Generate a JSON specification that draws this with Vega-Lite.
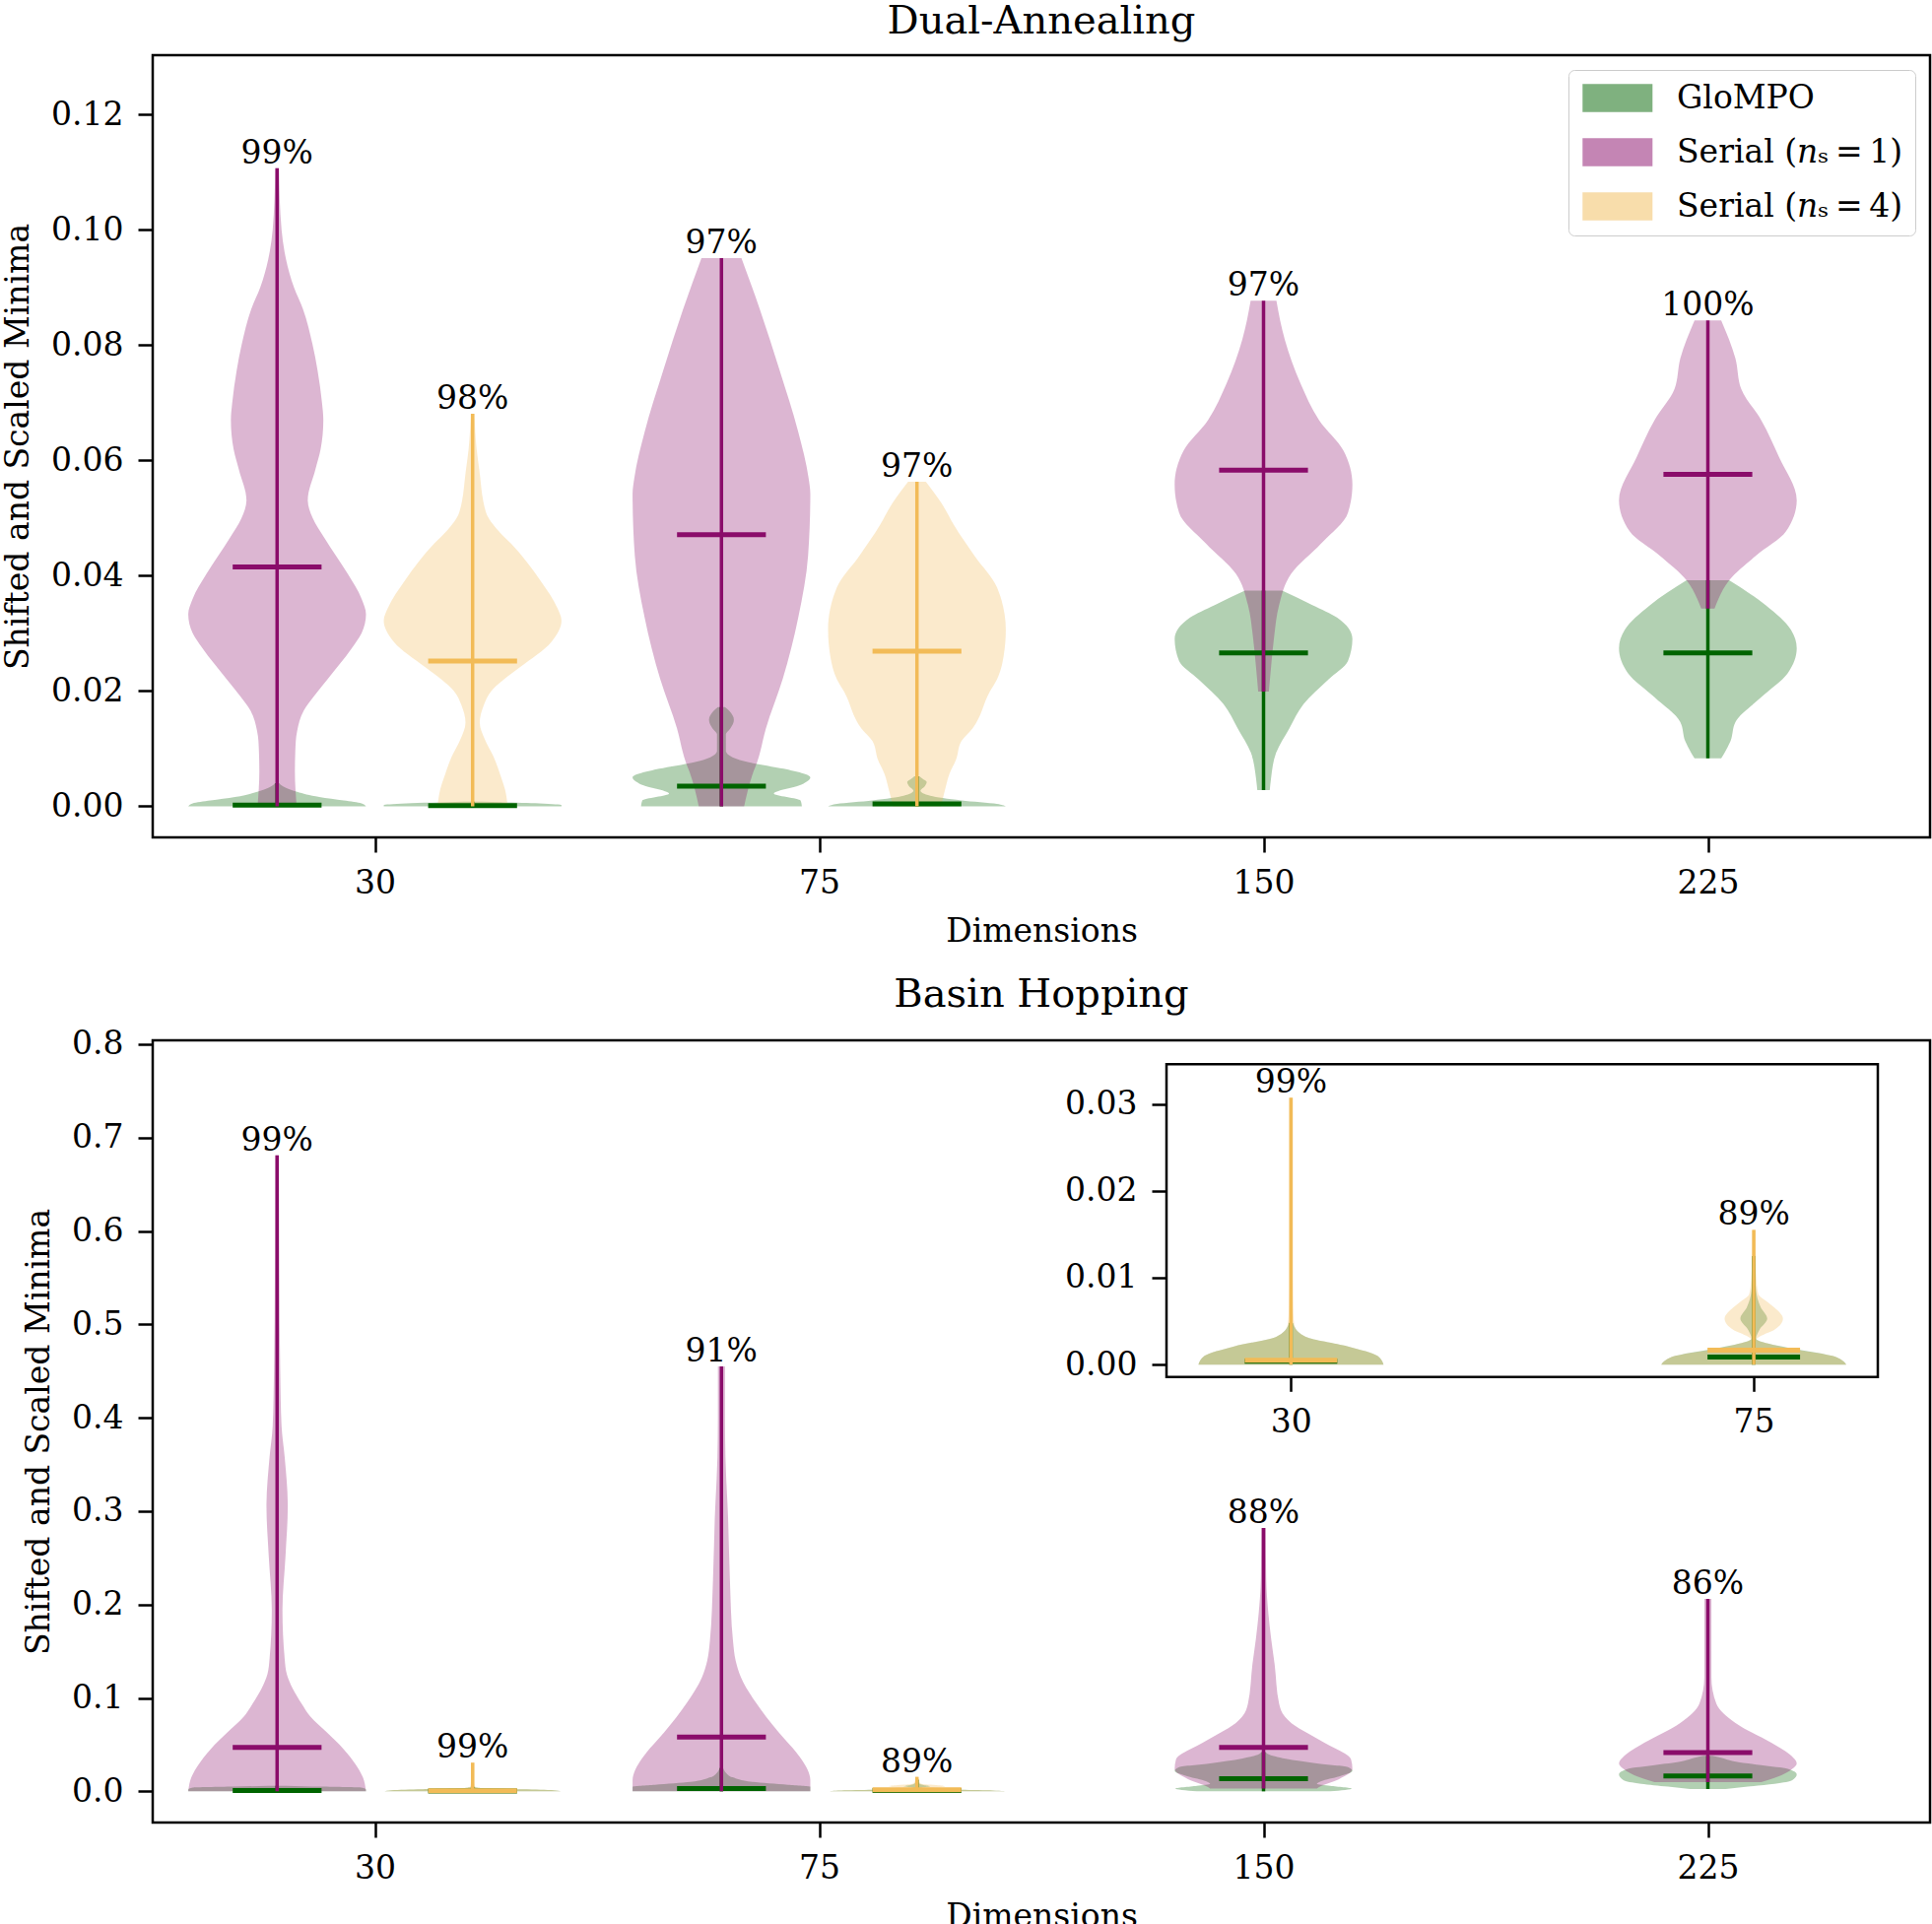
{
"$schema":"https://vega.github.io/schema/vega-lite/v6.json",
"padding":{"left":1,"top":0,"right":3,"bottom":0},
"background":"white",
"spacing":24,
"resolve":{"scale":{"fill":"independent","stroke":"independent"}},
"config":{
 "font":"DejaVu Serif",
 "view":{"stroke":"black","strokeWidth":2.5},
 "axis":{"grid":false,"domain":false,"tickColor":"black","tickWidth":2.5,"tickSize":15,"labelFont":"DejaVu Serif","labelFontSize":33,"labelColor":"black","titleFont":"DejaVu Serif","titleFontSize":33,"titleFontWeight":"normal","titleColor":"black","labelOverlap":false},
 "axisX":{"labelPadding":15,"titlePadding":16},
 "axisY":{"labelPadding":15,"titlePadding":16},
 "title":{"font":"DejaVu Serif","fontSize":40,"fontWeight":"normal","color":"black","baseline":"alphabetic","offset":14,"anchor":"middle"}
},
"datasets":{
"shapes":[
{"p":"DA","d":30,"c":"n1","s":"G","v":0.004,"w":0.005},{"p":"DA","d":30,"c":"n1","s":"G","v":0.0036,"w":0.01},{"p":"DA","d":30,"c":"n1","s":"G","v":0.0032,"w":0.02},{"p":"DA","d":30,"c":"n1","s":"G","v":0.0025,"w":0.045},{"p":"DA","d":30,"c":"n1","s":"G","v":0.0016,"w":0.095},{"p":"DA","d":30,"c":"n1","s":"G","v":0.001,"w":0.15},{"p":"DA","d":30,"c":"n1","s":"G","v":0.0005,"w":0.19},{"p":"DA","d":30,"c":"n1","s":"G","v":0,"w":0.2},
{"p":"DA","d":30,"c":"n1","s":"S1","v":0.1107,"w":0.004},{"p":"DA","d":30,"c":"n1","s":"S1","v":0.1,"w":0.01},{"p":"DA","d":30,"c":"n1","s":"S1","v":0.0949,"w":0.02},{"p":"DA","d":30,"c":"n1","s":"S1","v":0.09,"w":0.038},{"p":"DA","d":30,"c":"n1","s":"S1","v":0.0863,"w":0.058},{"p":"DA","d":30,"c":"n1","s":"S1","v":0.08,"w":0.08},{"p":"DA","d":30,"c":"n1","s":"S1","v":0.0756,"w":0.091},{"p":"DA","d":30,"c":"n1","s":"S1","v":0.07,"w":0.101},{"p":"DA","d":30,"c":"n1","s":"S1","v":0.067,"w":0.104},{"p":"DA","d":30,"c":"n1","s":"S1","v":0.062,"w":0.098},{"p":"DA","d":30,"c":"n1","s":"S1","v":0.0584,"w":0.086},{"p":"DA","d":30,"c":"n1","s":"S1","v":0.0531,"w":0.069},{"p":"DA","d":30,"c":"n1","s":"S1","v":0.05,"w":0.08},{"p":"DA","d":30,"c":"n1","s":"S1","v":0.0466,"w":0.106},{"p":"DA","d":30,"c":"n1","s":"S1","v":0.0403,"w":0.159},{"p":"DA","d":30,"c":"n1","s":"S1","v":0.036,"w":0.19},{"p":"DA","d":30,"c":"n1","s":"S1","v":0.0333,"w":0.2},{"p":"DA","d":30,"c":"n1","s":"S1","v":0.03,"w":0.19},{"p":"DA","d":30,"c":"n1","s":"S1","v":0.0274,"w":0.168},{"p":"DA","d":30,"c":"n1","s":"S1","v":0.022,"w":0.113},{"p":"DA","d":30,"c":"n1","s":"S1","v":0.019,"w":0.082},{"p":"DA","d":30,"c":"n1","s":"S1","v":0.0166,"w":0.06},{"p":"DA","d":30,"c":"n1","s":"S1","v":0.013,"w":0.045},{"p":"DA","d":30,"c":"n1","s":"S1","v":0.0113,"w":0.042},{"p":"DA","d":30,"c":"n1","s":"S1","v":0.006,"w":0.04},{"p":"DA","d":30,"c":"n1","s":"S1","v":0,"w":0.044},
{"p":"DA","d":30,"c":"n4","s":"G","v":0.0008,"w":0.02},{"p":"DA","d":30,"c":"n4","s":"G","v":0.0005,"w":0.15},{"p":"DA","d":30,"c":"n4","s":"G","v":0.0002,"w":0.2},{"p":"DA","d":30,"c":"n4","s":"G","v":0,"w":0.2},
{"p":"DA","d":30,"c":"n4","s":"S4","v":0.0681,"w":0.004},{"p":"DA","d":30,"c":"n4","s":"S4","v":0.062,"w":0.009},{"p":"DA","d":30,"c":"n4","s":"S4","v":0.0584,"w":0.015},{"p":"DA","d":30,"c":"n4","s":"S4","v":0.051,"w":0.03},{"p":"DA","d":30,"c":"n4","s":"S4","v":0.0477,"w":0.059},{"p":"DA","d":30,"c":"n4","s":"S4","v":0.0456,"w":0.086},{"p":"DA","d":30,"c":"n4","s":"S4","v":0.0392,"w":0.152},{"p":"DA","d":30,"c":"n4","s":"S4","v":0.0345,"w":0.19},{"p":"DA","d":30,"c":"n4","s":"S4","v":0.0322,"w":0.2},{"p":"DA","d":30,"c":"n4","s":"S4","v":0.0285,"w":0.177},{"p":"DA","d":30,"c":"n4","s":"S4","v":0.0242,"w":0.108},{"p":"DA","d":30,"c":"n4","s":"S4","v":0.022,"w":0.07},{"p":"DA","d":30,"c":"n4","s":"S4","v":0.02,"w":0.042},{"p":"DA","d":30,"c":"n4","s":"S4","v":0.0175,"w":0.025},{"p":"DA","d":30,"c":"n4","s":"S4","v":0.0145,"w":0.016},{"p":"DA","d":30,"c":"n4","s":"S4","v":0.0115,"w":0.028},{"p":"DA","d":30,"c":"n4","s":"S4","v":0.0086,"w":0.047},{"p":"DA","d":30,"c":"n4","s":"S4","v":0.0055,"w":0.062},{"p":"DA","d":30,"c":"n4","s":"S4","v":0.0029,"w":0.073},{"p":"DA","d":30,"c":"n4","s":"S4","v":0,"w":0.079},
{"p":"DA","d":75,"c":"n1","s":"G","v":0.0172,"w":0.008},{"p":"DA","d":75,"c":"n1","s":"G","v":0.0165,"w":0.018},{"p":"DA","d":75,"c":"n1","s":"G","v":0.015,"w":0.028},{"p":"DA","d":75,"c":"n1","s":"G","v":0.0135,"w":0.02},{"p":"DA","d":75,"c":"n1","s":"G","v":0.0125,"w":0.01},{"p":"DA","d":75,"c":"n1","s":"G","v":0.0096,"w":0.01},{"p":"DA","d":75,"c":"n1","s":"G","v":0.0085,"w":0.025},{"p":"DA","d":75,"c":"n1","s":"G","v":0.0076,"w":0.064},{"p":"DA","d":75,"c":"n1","s":"G","v":0.0065,"w":0.14},{"p":"DA","d":75,"c":"n1","s":"G","v":0.005,"w":0.2},{"p":"DA","d":75,"c":"n1","s":"G","v":0.0036,"w":0.175},{"p":"DA","d":75,"c":"n1","s":"G","v":0.0022,"w":0.118},{"p":"DA","d":75,"c":"n1","s":"G","v":0.001,"w":0.178},{"p":"DA","d":75,"c":"n1","s":"G","v":0,"w":0.181},
{"p":"DA","d":75,"c":"n1","s":"S1","v":0.0951,"w":0.045},{"p":"DA","d":75,"c":"n1","s":"S1","v":0.0863,"w":0.086},{"p":"DA","d":75,"c":"n1","s":"S1","v":0.0756,"w":0.131},{"p":"DA","d":75,"c":"n1","s":"S1","v":0.0649,"w":0.173},{"p":"DA","d":75,"c":"n1","s":"S1","v":0.057,"w":0.196},{"p":"DA","d":75,"c":"n1","s":"S1","v":0.0542,"w":0.2},{"p":"DA","d":75,"c":"n1","s":"S1","v":0.0435,"w":0.195},{"p":"DA","d":75,"c":"n1","s":"S1","v":0.0328,"w":0.173},{"p":"DA","d":75,"c":"n1","s":"S1","v":0.0221,"w":0.138},{"p":"DA","d":75,"c":"n1","s":"S1","v":0.0135,"w":0.1},{"p":"DA","d":75,"c":"n1","s":"S1","v":0.0076,"w":0.08},{"p":"DA","d":75,"c":"n1","s":"S1","v":0.006,"w":0.072},{"p":"DA","d":75,"c":"n1","s":"S1","v":0,"w":0.051},
{"p":"DA","d":75,"c":"n4","s":"G","v":0.0052,"w":0.006},{"p":"DA","d":75,"c":"n4","s":"G","v":0.0048,"w":0.012},{"p":"DA","d":75,"c":"n4","s":"G","v":0.0042,"w":0.022},{"p":"DA","d":75,"c":"n4","s":"G","v":0.0035,"w":0.018},{"p":"DA","d":75,"c":"n4","s":"G","v":0.0027,"w":0.008},{"p":"DA","d":75,"c":"n4","s":"G","v":0.0018,"w":0.03},{"p":"DA","d":75,"c":"n4","s":"G","v":0.001,"w":0.1},{"p":"DA","d":75,"c":"n4","s":"G","v":0.0004,"w":0.18},{"p":"DA","d":75,"c":"n4","s":"G","v":0,"w":0.2},
{"p":"DA","d":75,"c":"n4","s":"S4","v":0.0563,"w":0.02},{"p":"DA","d":75,"c":"n4","s":"S4","v":0.052,"w":0.06},{"p":"DA","d":75,"c":"n4","s":"S4","v":0.0488,"w":0.083},{"p":"DA","d":75,"c":"n4","s":"S4","v":0.0434,"w":0.13},{"p":"DA","d":75,"c":"n4","s":"S4","v":0.038,"w":0.18},{"p":"DA","d":75,"c":"n4","s":"S4","v":0.0306,"w":0.2},{"p":"DA","d":75,"c":"n4","s":"S4","v":0.026,"w":0.195},{"p":"DA","d":75,"c":"n4","s":"S4","v":0.022,"w":0.18},{"p":"DA","d":75,"c":"n4","s":"S4","v":0.0199,"w":0.164},{"p":"DA","d":75,"c":"n4","s":"S4","v":0.0135,"w":0.125},{"p":"DA","d":75,"c":"n4","s":"S4","v":0.0113,"w":0.1},{"p":"DA","d":75,"c":"n4","s":"S4","v":0.0081,"w":0.088},{"p":"DA","d":75,"c":"n4","s":"S4","v":0.0056,"w":0.073},{"p":"DA","d":75,"c":"n4","s":"S4","v":0.0028,"w":0.063},{"p":"DA","d":75,"c":"n4","s":"S4","v":0,"w":0.054},
{"p":"DA","d":150,"c":"n1","s":"G","v":0.0374,"w":0.042},{"p":"DA","d":150,"c":"n1","s":"G","v":0.0349,"w":0.11},{"p":"DA","d":150,"c":"n1","s":"G","v":0.0327,"w":0.166},{"p":"DA","d":150,"c":"n1","s":"G","v":0.029,"w":0.2},{"p":"DA","d":150,"c":"n1","s":"G","v":0.0252,"w":0.19},{"p":"DA","d":150,"c":"n1","s":"G","v":0.022,"w":0.146},{"p":"DA","d":150,"c":"n1","s":"G","v":0.0177,"w":0.09},{"p":"DA","d":150,"c":"n1","s":"G","v":0.0135,"w":0.058},{"p":"DA","d":150,"c":"n1","s":"G","v":0.0092,"w":0.028},{"p":"DA","d":150,"c":"n1","s":"G","v":0.0049,"w":0.017},{"p":"DA","d":150,"c":"n1","s":"G","v":0.0028,"w":0.014},
{"p":"DA","d":150,"c":"n1","s":"S1","v":0.0877,"w":0.029},{"p":"DA","d":150,"c":"n1","s":"S1","v":0.0809,"w":0.048},{"p":"DA","d":150,"c":"n1","s":"S1","v":0.0734,"w":0.083},{"p":"DA","d":150,"c":"n1","s":"S1","v":0.067,"w":0.125},{"p":"DA","d":150,"c":"n1","s":"S1","v":0.0617,"w":0.18},{"p":"DA","d":150,"c":"n1","s":"S1","v":0.0558,"w":0.2},{"p":"DA","d":150,"c":"n1","s":"S1","v":0.0509,"w":0.19},{"p":"DA","d":150,"c":"n1","s":"S1","v":0.0456,"w":0.13},{"p":"DA","d":150,"c":"n1","s":"S1","v":0.0403,"w":0.062},{"p":"DA","d":150,"c":"n1","s":"S1","v":0.0349,"w":0.035},{"p":"DA","d":150,"c":"n1","s":"S1","v":0.0295,"w":0.024},{"p":"DA","d":150,"c":"n1","s":"S1","v":0.0242,"w":0.017},{"p":"DA","d":150,"c":"n1","s":"S1","v":0.0199,"w":0.012},
{"p":"DA","d":225,"c":"n1","s":"G","v":0.0392,"w":0.048},{"p":"DA","d":225,"c":"n1","s":"G","v":0.0349,"w":0.13},{"p":"DA","d":225,"c":"n1","s":"G","v":0.0306,"w":0.187},{"p":"DA","d":225,"c":"n1","s":"G","v":0.0274,"w":0.2},{"p":"DA","d":225,"c":"n1","s":"G","v":0.0231,"w":0.18},{"p":"DA","d":225,"c":"n1","s":"G","v":0.0189,"w":0.12},{"p":"DA","d":225,"c":"n1","s":"G","v":0.0146,"w":0.062},{"p":"DA","d":225,"c":"n1","s":"G","v":0.0113,"w":0.051},{"p":"DA","d":225,"c":"n1","s":"G","v":0.0083,"w":0.03},
{"p":"DA","d":225,"c":"n1","s":"S1","v":0.0843,"w":0.03},{"p":"DA","d":225,"c":"n1","s":"S1","v":0.0777,"w":0.062},{"p":"DA","d":225,"c":"n1","s":"S1","v":0.0724,"w":0.075},{"p":"DA","d":225,"c":"n1","s":"S1","v":0.067,"w":0.12},{"p":"DA","d":225,"c":"n1","s":"S1","v":0.0606,"w":0.16},{"p":"DA","d":225,"c":"n1","s":"S1","v":0.0531,"w":0.2},{"p":"DA","d":225,"c":"n1","s":"S1","v":0.0477,"w":0.176},{"p":"DA","d":225,"c":"n1","s":"S1","v":0.0434,"w":0.107},{"p":"DA","d":225,"c":"n1","s":"S1","v":0.0392,"w":0.048},{"p":"DA","d":225,"c":"n1","s":"S1","v":0.036,"w":0.024},{"p":"DA","d":225,"c":"n1","s":"S1","v":0.0343,"w":0.015},
{"p":"BH","d":30,"c":"n1","s":"G","v":0.006,"w":0.02},{"p":"BH","d":30,"c":"n1","s":"G","v":0.005,"w":0.1},{"p":"BH","d":30,"c":"n1","s":"G","v":0.004,"w":0.19},{"p":"BH","d":30,"c":"n1","s":"G","v":0.002,"w":0.2},{"p":"BH","d":30,"c":"n1","s":"G","v":0,"w":0.2},
{"p":"BH","d":30,"c":"n1","s":"S1","v":0.681,"w":0.004},{"p":"BH","d":30,"c":"n1","s":"S1","v":0.554,"w":0.005},{"p":"BH","d":30,"c":"n1","s":"S1","v":0.45,"w":0.007},{"p":"BH","d":30,"c":"n1","s":"S1","v":0.391,"w":0.01},{"p":"BH","d":30,"c":"n1","s":"S1","v":0.358,"w":0.017},{"p":"BH","d":30,"c":"n1","s":"S1","v":0.305,"w":0.024},{"p":"BH","d":30,"c":"n1","s":"S1","v":0.253,"w":0.019},{"p":"BH","d":30,"c":"n1","s":"S1","v":0.194,"w":0.012},{"p":"BH","d":30,"c":"n1","s":"S1","v":0.142,"w":0.017},{"p":"BH","d":30,"c":"n1","s":"S1","v":0.125,"w":0.022},{"p":"BH","d":30,"c":"n1","s":"S1","v":0.11,"w":0.035},{"p":"BH","d":30,"c":"n1","s":"S1","v":0.094,"w":0.055},{"p":"BH","d":30,"c":"n1","s":"S1","v":0.08,"w":0.075},{"p":"BH","d":30,"c":"n1","s":"S1","v":0.063,"w":0.112},{"p":"BH","d":30,"c":"n1","s":"S1","v":0.045,"w":0.15},{"p":"BH","d":30,"c":"n1","s":"S1","v":0.03,"w":0.175},{"p":"BH","d":30,"c":"n1","s":"S1","v":0.015,"w":0.193},{"p":"BH","d":30,"c":"n1","s":"S1","v":0,"w":0.2},
{"p":"BH","d":30,"c":"n4","s":"G","v":0.0048,"w":0.004},{"p":"BH","d":30,"c":"n4","s":"G","v":0.0044,"w":0.007},{"p":"BH","d":30,"c":"n4","s":"G","v":0.0032,"w":0.032},{"p":"BH","d":30,"c":"n4","s":"G","v":0.0021,"w":0.123},{"p":"BH","d":30,"c":"n4","s":"G","v":0.001,"w":0.187},{"p":"BH","d":30,"c":"n4","s":"G","v":0,"w":0.2},
{"p":"BH","d":30,"c":"n4","s":"S4","v":0.0307,"w":0.004},{"p":"BH","d":30,"c":"n4","s":"S4","v":0.02,"w":0.004},{"p":"BH","d":30,"c":"n4","s":"S4","v":0.01,"w":0.004},{"p":"BH","d":30,"c":"n4","s":"S4","v":0.006,"w":0.005},{"p":"BH","d":30,"c":"n4","s":"S4","v":0.0044,"w":0.008},{"p":"BH","d":30,"c":"n4","s":"S4","v":0.0032,"w":0.032},{"p":"BH","d":30,"c":"n4","s":"S4","v":0.0021,"w":0.123},{"p":"BH","d":30,"c":"n4","s":"S4","v":0.001,"w":0.187},{"p":"BH","d":30,"c":"n4","s":"S4","v":0,"w":0.2},
{"p":"BH","d":75,"c":"n1","s":"G","v":0.025,"w":0.004},{"p":"BH","d":75,"c":"n1","s":"G","v":0.02,"w":0.01},{"p":"BH","d":75,"c":"n1","s":"G","v":0.015,"w":0.025},{"p":"BH","d":75,"c":"n1","s":"G","v":0.01,"w":0.07},{"p":"BH","d":75,"c":"n1","s":"G","v":0.007,"w":0.15},{"p":"BH","d":75,"c":"n1","s":"G","v":0.005,"w":0.2},{"p":"BH","d":75,"c":"n1","s":"G","v":0,"w":0.2},
{"p":"BH","d":75,"c":"n1","s":"S1","v":0.455,"w":0.008},{"p":"BH","d":75,"c":"n1","s":"S1","v":0.4,"w":0.008},{"p":"BH","d":75,"c":"n1","s":"S1","v":0.358,"w":0.009},{"p":"BH","d":75,"c":"n1","s":"S1","v":0.292,"w":0.015},{"p":"BH","d":75,"c":"n1","s":"S1","v":0.227,"w":0.019},{"p":"BH","d":75,"c":"n1","s":"S1","v":0.161,"w":0.026},{"p":"BH","d":75,"c":"n1","s":"S1","v":0.14,"w":0.032},{"p":"BH","d":75,"c":"n1","s":"S1","v":0.122,"w":0.044},{"p":"BH","d":75,"c":"n1","s":"S1","v":0.096,"w":0.076},{"p":"BH","d":75,"c":"n1","s":"S1","v":0.063,"w":0.129},{"p":"BH","d":75,"c":"n1","s":"S1","v":0.037,"w":0.176},{"p":"BH","d":75,"c":"n1","s":"S1","v":0.023,"w":0.194},{"p":"BH","d":75,"c":"n1","s":"S1","v":0.012,"w":0.2},{"p":"BH","d":75,"c":"n1","s":"S1","v":0,"w":0.2},
{"p":"BH","d":75,"c":"n4","s":"G","v":0.0125,"w":0.003},{"p":"BH","d":75,"c":"n4","s":"G","v":0.012,"w":0.004},{"p":"BH","d":75,"c":"n4","s":"G","v":0.0105,"w":0.003},{"p":"BH","d":75,"c":"n4","s":"G","v":0.0085,"w":0.005},{"p":"BH","d":75,"c":"n4","s":"G","v":0.0066,"w":0.015},{"p":"BH","d":75,"c":"n4","s":"G","v":0.0053,"w":0.029},{"p":"BH","d":75,"c":"n4","s":"G","v":0.004,"w":0.012},{"p":"BH","d":75,"c":"n4","s":"G","v":0.003,"w":0.005},{"p":"BH","d":75,"c":"n4","s":"G","v":0.0022,"w":0.05},{"p":"BH","d":75,"c":"n4","s":"G","v":0.0017,"w":0.1},{"p":"BH","d":75,"c":"n4","s":"G","v":0.001,"w":0.17},{"p":"BH","d":75,"c":"n4","s":"G","v":0,"w":0.2},
{"p":"BH","d":75,"c":"n4","s":"S4","v":0.0155,"w":0.003},{"p":"BH","d":75,"c":"n4","s":"S4","v":0.0119,"w":0.004},{"p":"BH","d":75,"c":"n4","s":"S4","v":0.0095,"w":0.006},{"p":"BH","d":75,"c":"n4","s":"S4","v":0.0081,"w":0.01},{"p":"BH","d":75,"c":"n4","s":"S4","v":0.0072,"w":0.03},{"p":"BH","d":75,"c":"n4","s":"S4","v":0.0066,"w":0.044},{"p":"BH","d":75,"c":"n4","s":"S4","v":0.0053,"w":0.063},{"p":"BH","d":75,"c":"n4","s":"S4","v":0.004,"w":0.044},{"p":"BH","d":75,"c":"n4","s":"S4","v":0.0033,"w":0.015},{"p":"BH","d":75,"c":"n4","s":"S4","v":0.0029,"w":0.006},{"p":"BH","d":75,"c":"n4","s":"S4","v":0.0023,"w":0.04},{"p":"BH","d":75,"c":"n4","s":"S4","v":0.0017,"w":0.093},{"p":"BH","d":75,"c":"n4","s":"S4","v":0.001,"w":0.17},{"p":"BH","d":75,"c":"n4","s":"S4","v":0,"w":0.2},
{"p":"BH","d":150,"c":"n1","s":"G","v":0.042,"w":0.005},{"p":"BH","d":150,"c":"n1","s":"G","v":0.04,"w":0.01},{"p":"BH","d":150,"c":"n1","s":"G","v":0.035,"w":0.05},{"p":"BH","d":150,"c":"n1","s":"G","v":0.03,"w":0.12},{"p":"BH","d":150,"c":"n1","s":"G","v":0.026,"w":0.19},{"p":"BH","d":150,"c":"n1","s":"G","v":0.022,"w":0.2},{"p":"BH","d":150,"c":"n1","s":"G","v":0.016,"w":0.17},{"p":"BH","d":150,"c":"n1","s":"G","v":0.011,"w":0.13},{"p":"BH","d":150,"c":"n1","s":"G","v":0.008,"w":0.12},{"p":"BH","d":150,"c":"n1","s":"G","v":0.006,"w":0.15},{"p":"BH","d":150,"c":"n1","s":"G","v":0.003,"w":0.199},{"p":"BH","d":150,"c":"n1","s":"G","v":0,"w":0.15},
{"p":"BH","d":150,"c":"n1","s":"S1","v":0.282,"w":0.005},{"p":"BH","d":150,"c":"n1","s":"S1","v":0.228,"w":0.006},{"p":"BH","d":150,"c":"n1","s":"S1","v":0.19,"w":0.011},{"p":"BH","d":150,"c":"n1","s":"S1","v":0.164,"w":0.017},{"p":"BH","d":150,"c":"n1","s":"S1","v":0.136,"w":0.025},{"p":"BH","d":150,"c":"n1","s":"S1","v":0.094,"w":0.035},{"p":"BH","d":150,"c":"n1","s":"S1","v":0.08,"w":0.048},{"p":"BH","d":150,"c":"n1","s":"S1","v":0.073,"w":0.063},{"p":"BH","d":150,"c":"n1","s":"S1","v":0.062,"w":0.1},{"p":"BH","d":150,"c":"n1","s":"S1","v":0.052,"w":0.137},{"p":"BH","d":150,"c":"n1","s":"S1","v":0.034,"w":0.197},{"p":"BH","d":150,"c":"n1","s":"S1","v":0.024,"w":0.2},{"p":"BH","d":150,"c":"n1","s":"S1","v":0.013,"w":0.17},{"p":"BH","d":150,"c":"n1","s":"S1","v":0.0045,"w":0.125},{"p":"BH","d":150,"c":"n1","s":"S1","v":0.003,"w":0.12},
{"p":"BH","d":225,"c":"n1","s":"G","v":0.038,"w":0.01},{"p":"BH","d":225,"c":"n1","s":"G","v":0.036,"w":0.03},{"p":"BH","d":225,"c":"n1","s":"G","v":0.032,"w":0.06},{"p":"BH","d":225,"c":"n1","s":"G","v":0.028,"w":0.12},{"p":"BH","d":225,"c":"n1","s":"G","v":0.024,"w":0.18},{"p":"BH","d":225,"c":"n1","s":"G","v":0.018,"w":0.2},{"p":"BH","d":225,"c":"n1","s":"G","v":0.012,"w":0.19},{"p":"BH","d":225,"c":"n1","s":"G","v":0.008,"w":0.15},{"p":"BH","d":225,"c":"n1","s":"G","v":0.005,"w":0.09},{"p":"BH","d":225,"c":"n1","s":"G","v":0.0025,"w":0.04},
{"p":"BH","d":225,"c":"n1","s":"S1","v":0.206,"w":0.008},{"p":"BH","d":225,"c":"n1","s":"S1","v":0.179,"w":0.008},{"p":"BH","d":225,"c":"n1","s":"S1","v":0.122,"w":0.008},{"p":"BH","d":225,"c":"n1","s":"S1","v":0.094,"w":0.019},{"p":"BH","d":225,"c":"n1","s":"S1","v":0.073,"w":0.063},{"p":"BH","d":225,"c":"n1","s":"S1","v":0.052,"w":0.143},{"p":"BH","d":225,"c":"n1","s":"S1","v":0.038,"w":0.188},{"p":"BH","d":225,"c":"n1","s":"S1","v":0.03,"w":0.2},{"p":"BH","d":225,"c":"n1","s":"S1","v":0.024,"w":0.19},{"p":"BH","d":225,"c":"n1","s":"S1","v":0.015,"w":0.154},{"p":"BH","d":225,"c":"n1","s":"S1","v":0.0098,"w":0.12}
],
"stats":[
{"p":"DA","d":30,"c":"n1","s":"G","mean":0.0002,"mn":0,"mx":0.004},
{"p":"DA","d":30,"c":"n4","s":"G","mean":0.0001,"mn":0,"mx":0.0008},
{"p":"DA","d":75,"c":"n1","s":"G","mean":0.0035,"mn":0,"mx":0.0172},
{"p":"DA","d":75,"c":"n4","s":"G","mean":0.0004,"mn":0,"mx":0.0052},
{"p":"DA","d":150,"c":"n1","s":"G","mean":0.0266,"mn":0.0028,"mx":0.0374},
{"p":"DA","d":225,"c":"n1","s":"G","mean":0.0266,"mn":0.0083,"mx":0.0392},
{"p":"DA","d":30,"c":"n1","s":"S1","mean":0.0415,"mn":0,"mx":0.1107,"pct":"99%"},
{"p":"DA","d":30,"c":"n4","s":"S4","mean":0.0252,"mn":0,"mx":0.0681,"pct":"98%"},
{"p":"DA","d":75,"c":"n1","s":"S1","mean":0.0471,"mn":0,"mx":0.0951,"pct":"97%"},
{"p":"DA","d":75,"c":"n4","s":"S4","mean":0.0269,"mn":0,"mx":0.0563,"pct":"97%"},
{"p":"DA","d":150,"c":"n1","s":"S1","mean":0.0583,"mn":0.0199,"mx":0.0877,"pct":"97%"},
{"p":"DA","d":225,"c":"n1","s":"S1","mean":0.0576,"mn":0.0343,"mx":0.0843,"pct":"100%"},
{"p":"BH","d":30,"c":"n1","s":"G","mean":0.0008,"mn":0,"mx":0.006},
{"p":"BH","d":30,"c":"n4","s":"G","mean":0.0004,"mn":0,"mx":0.0048},
{"p":"BH","d":75,"c":"n1","s":"G","mean":0.003,"mn":0,"mx":0.025},
{"p":"BH","d":75,"c":"n4","s":"G","mean":0.00086,"mn":0,"mx":0.0125},
{"p":"BH","d":150,"c":"n1","s":"G","mean":0.0135,"mn":0,"mx":0.042},
{"p":"BH","d":225,"c":"n1","s":"G","mean":0.0165,"mn":0.0025,"mx":0.038},
{"p":"BH","d":30,"c":"n1","s":"S1","mean":0.047,"mn":0,"mx":0.681,"pct":"99%"},
{"p":"BH","d":30,"c":"n4","s":"S4","mean":0.0005,"mn":0,"mx":0.0307,"pct":"99%"},
{"p":"BH","d":75,"c":"n1","s":"S1","mean":0.058,"mn":0,"mx":0.455,"pct":"91%"},
{"p":"BH","d":75,"c":"n4","s":"S4","mean":0.00165,"mn":0,"mx":0.0155,"pct":"89%"},
{"p":"BH","d":150,"c":"n1","s":"S1","mean":0.047,"mn":0.003,"mx":0.282,"pct":"88%"},
{"p":"BH","d":225,"c":"n1","s":"S1","mean":0.0415,"mn":0.0098,"mx":0.206,"pct":"86%"}
]
},
"vconcat":[
{
"title":"Dual-Annealing","width":1804,"height":794,
"layer":[
{"data":{"name":"shapes"},"transform":[{"filter":"datum.p=='DA' && datum.s=='G'"},{"calculate":"indexof([30,75,150,225],datum.d)+(datum.d>=150?0:(datum.c=='n4'?0.22:-0.22))","as":"pos"},{"calculate":"datum.pos-datum.w","as":"lo"},{"calculate":"datum.pos+datum.w","as":"hi"}],
 "mark":{"type":"area","orient":"horizontal","interpolate":"monotone","fillOpacity":0.3},
 "encoding":{"y":{"field":"v","type":"quantitative","scale":{"domain":[-0.0054,0.1303],"nice":false,"zero":false},"axis":{"values":[0,0.02,0.04,0.06,0.08,0.1,0.12],"format":".2f","title":"Shifted and Scaled Minima"}},
  "x":{"field":"lo","type":"quantitative","scale":{"domain":[-0.5,3.5],"nice":false,"zero":false},"axis":{"values":[0,1,2,3],"labelExpr":"['30','75','150','225'][datum.value]","title":"Dimensions","labelFlush":false}},
  "x2":{"field":"hi"},
  "fill":{"field":"s","type":"nominal","scale":{"domain":["G","S1","S4"],"range":["#006400","#8a0c6a","#f2bb57"]},"legend":{"title":null,"orient":"top-right","offset":15,"symbolType":"M-1,-1H4V1H-1Z","symbolSize":807,"symbolOpacity":0.5,"symbolStrokeWidth":0,"labelFont":"DejaVu Serif","labelFontSize":33,"labelColor":"black","labelOffset":65,"labelLimit":500,"rowPadding":21,"padding":12,"strokeColor":"#cccccc","fillColor":"white","cornerRadius":6,"labelExpr":"datum.label=='G'?'GloMPO':datum.label=='S1'?'Serial (𝑛ₛ\u2009=\u20091)':'Serial (𝑛ₛ\u2009=\u20094)'"}},
  "detail":[{"field":"d"},{"field":"c"}]}},
{"data":{"name":"shapes"},"transform":[{"filter":"datum.p=='DA' && datum.s!='G'"},{"calculate":"indexof([30,75,150,225],datum.d)+(datum.d>=150?0:(datum.c=='n4'?0.22:-0.22))","as":"pos"},{"calculate":"datum.pos-datum.w","as":"lo"},{"calculate":"datum.pos+datum.w","as":"hi"}],
 "mark":{"type":"area","orient":"horizontal","interpolate":"monotone","fillOpacity":0.3},
 "encoding":{"y":{"field":"v","type":"quantitative","scale":{"domain":[-0.0054,0.1303],"nice":false,"zero":false},"axis":{"values":[0,0.02,0.04,0.06,0.08,0.1,0.12],"format":".2f","title":"Shifted and Scaled Minima"}},
  "x":{"field":"lo","type":"quantitative","scale":{"domain":[-0.5,3.5],"nice":false,"zero":false},"axis":{"values":[0,1,2,3],"labelExpr":"['30','75','150','225'][datum.value]","title":"Dimensions","labelFlush":false}},
  "x2":{"field":"hi"},
  "fill":{"field":"s","type":"nominal","scale":{"domain":["G","S1","S4"],"range":["#006400","#8a0c6a","#f2bb57"]}},
  "detail":[{"field":"d"},{"field":"c"}]}},
{"data":{"name":"stats"},"transform":[{"filter":"datum.p=='DA' && datum.s=='G'"},{"calculate":"indexof([30,75,150,225],datum.d)+(datum.d>=150?0:(datum.c=='n4'?0.22:-0.22))","as":"pos"},{"calculate":"datum.pos-0.1","as":"m0"},{"calculate":"datum.pos+0.1","as":"m1"}],
 "mark":{"type":"rule","strokeWidth":5},
 "encoding":{"y":{"field":"mean","type":"quantitative","scale":{"domain":[-0.0054,0.1303],"nice":false,"zero":false},"axis":{"values":[0,0.02,0.04,0.06,0.08,0.1,0.12],"format":".2f","title":"Shifted and Scaled Minima"}},
  "x":{"field":"m0","type":"quantitative","scale":{"domain":[-0.5,3.5],"nice":false,"zero":false},"axis":{"values":[0,1,2,3],"labelExpr":"['30','75','150','225'][datum.value]","title":"Dimensions","labelFlush":false}},
  "x2":{"field":"m1"},
  "stroke":{"field":"s","type":"nominal","scale":{"domain":["G","S1","S4"],"range":["#006400","#8a0c6a","#f2bb57"]},"legend":null}}},
{"data":{"name":"stats"},"transform":[{"filter":"datum.p=='DA' && datum.s=='G'"},{"calculate":"indexof([30,75,150,225],datum.d)+(datum.d>=150?0:(datum.c=='n4'?0.22:-0.22))","as":"pos"}],
 "mark":{"type":"rule","strokeWidth":3.5},
 "encoding":{"y":{"field":"mn","type":"quantitative","scale":{"domain":[-0.0054,0.1303],"nice":false,"zero":false},"axis":{"values":[0,0.02,0.04,0.06,0.08,0.1,0.12],"format":".2f","title":"Shifted and Scaled Minima"}},
  "y2":{"field":"mx"},
  "x":{"field":"pos","type":"quantitative","scale":{"domain":[-0.5,3.5],"nice":false,"zero":false},"axis":{"values":[0,1,2,3],"labelExpr":"['30','75','150','225'][datum.value]","title":"Dimensions","labelFlush":false}},
  "stroke":{"field":"s","type":"nominal","scale":{"domain":["G","S1","S4"],"range":["#006400","#8a0c6a","#f2bb57"]},"legend":null}}},
{"data":{"name":"stats"},"transform":[{"filter":"datum.p=='DA' && datum.s!='G'"},{"calculate":"indexof([30,75,150,225],datum.d)+(datum.d>=150?0:(datum.c=='n4'?0.22:-0.22))","as":"pos"},{"calculate":"datum.pos-0.1","as":"m0"},{"calculate":"datum.pos+0.1","as":"m1"}],
 "mark":{"type":"rule","strokeWidth":5},
 "encoding":{"y":{"field":"mean","type":"quantitative","scale":{"domain":[-0.0054,0.1303],"nice":false,"zero":false},"axis":{"values":[0,0.02,0.04,0.06,0.08,0.1,0.12],"format":".2f","title":"Shifted and Scaled Minima"}},
  "x":{"field":"m0","type":"quantitative","scale":{"domain":[-0.5,3.5],"nice":false,"zero":false},"axis":{"values":[0,1,2,3],"labelExpr":"['30','75','150','225'][datum.value]","title":"Dimensions","labelFlush":false}},
  "x2":{"field":"m1"},
  "stroke":{"field":"s","type":"nominal","scale":{"domain":["G","S1","S4"],"range":["#006400","#8a0c6a","#f2bb57"]},"legend":null}}},
{"data":{"name":"stats"},"transform":[{"filter":"datum.p=='DA' && datum.s!='G'"},{"calculate":"indexof([30,75,150,225],datum.d)+(datum.d>=150?0:(datum.c=='n4'?0.22:-0.22))","as":"pos"}],
 "mark":{"type":"rule","strokeWidth":3.5},
 "encoding":{"y":{"field":"mn","type":"quantitative","scale":{"domain":[-0.0054,0.1303],"nice":false,"zero":false},"axis":{"values":[0,0.02,0.04,0.06,0.08,0.1,0.12],"format":".2f","title":"Shifted and Scaled Minima"}},
  "y2":{"field":"mx"},
  "x":{"field":"pos","type":"quantitative","scale":{"domain":[-0.5,3.5],"nice":false,"zero":false},"axis":{"values":[0,1,2,3],"labelExpr":"['30','75','150','225'][datum.value]","title":"Dimensions","labelFlush":false}},
  "stroke":{"field":"s","type":"nominal","scale":{"domain":["G","S1","S4"],"range":["#006400","#8a0c6a","#f2bb57"]},"legend":null}}},
{"data":{"name":"stats"},"transform":[{"filter":"datum.p=='DA' && isValid(datum.pct)"},{"calculate":"indexof([30,75,150,225],datum.d)+(datum.d>=150?0:(datum.c=='n4'?0.22:-0.22))","as":"pos"}],
 "mark":{"type":"text","baseline":"alphabetic","align":"center","dy":-5,"fontSize":33,"font":"DejaVu Serif","color":"black"},
 "encoding":{"y":{"field":"mx","type":"quantitative","scale":{"domain":[-0.0054,0.1303],"nice":false,"zero":false},"axis":{"values":[0,0.02,0.04,0.06,0.08,0.1,0.12],"format":".2f","title":"Shifted and Scaled Minima"}},
  "x":{"field":"pos","type":"quantitative","scale":{"domain":[-0.5,3.5],"nice":false,"zero":false},"axis":{"values":[0,1,2,3],"labelExpr":"['30','75','150','225'][datum.value]","title":"Dimensions","labelFlush":false}},
  "text":{"field":"pct"}}}
]
},
{
"title":"Basin Hopping","width":1804,"height":794,
"resolve":{"scale":{"x":"independent","y":"independent"}},
"layer":[
{"layer":[
{"data":{"name":"shapes"},"transform":[{"filter":"datum.p=='BH' && datum.s=='G'"},{"calculate":"indexof([30,75,150,225],datum.d)+(datum.d>=150?0:(datum.c=='n4'?0.22:-0.22))","as":"pos"},{"calculate":"datum.pos-datum.w","as":"lo"},{"calculate":"datum.pos+datum.w","as":"hi"}],
 "mark":{"type":"area","orient":"horizontal","interpolate":"monotone","fillOpacity":0.3},
 "encoding":{"y":{"field":"v","type":"quantitative","scale":{"domain":[-0.0334,0.8042],"nice":false,"zero":false},"axis":{"values":[0,0.1,0.2,0.3,0.4,0.5,0.6,0.7,0.8],"format":".1f","title":"Shifted and Scaled Minima"}},
  "x":{"field":"lo","type":"quantitative","scale":{"domain":[-0.5,3.5],"nice":false,"zero":false},"axis":{"values":[0,1,2,3],"labelExpr":"['30','75','150','225'][datum.value]","title":"Dimensions","labelFlush":false}},
  "x2":{"field":"hi"},
  "fill":{"field":"s","type":"nominal","scale":{"domain":["G","S1","S4"],"range":["#006400","#8a0c6a","#f2bb57"]},"legend":null},
  "detail":[{"field":"d"},{"field":"c"}]}},
{"data":{"name":"shapes"},"transform":[{"filter":"datum.p=='BH' && datum.s!='G'"},{"calculate":"indexof([30,75,150,225],datum.d)+(datum.d>=150?0:(datum.c=='n4'?0.22:-0.22))","as":"pos"},{"calculate":"datum.pos-datum.w","as":"lo"},{"calculate":"datum.pos+datum.w","as":"hi"}],
 "mark":{"type":"area","orient":"horizontal","interpolate":"monotone","fillOpacity":0.3},
 "encoding":{"y":{"field":"v","type":"quantitative","scale":{"domain":[-0.0334,0.8042],"nice":false,"zero":false},"axis":{"values":[0,0.1,0.2,0.3,0.4,0.5,0.6,0.7,0.8],"format":".1f","title":"Shifted and Scaled Minima"}},
  "x":{"field":"lo","type":"quantitative","scale":{"domain":[-0.5,3.5],"nice":false,"zero":false},"axis":{"values":[0,1,2,3],"labelExpr":"['30','75','150','225'][datum.value]","title":"Dimensions","labelFlush":false}},
  "x2":{"field":"hi"},
  "fill":{"field":"s","type":"nominal","scale":{"domain":["G","S1","S4"],"range":["#006400","#8a0c6a","#f2bb57"]},"legend":null},
  "detail":[{"field":"d"},{"field":"c"}]}},
{"data":{"name":"stats"},"transform":[{"filter":"datum.p=='BH' && datum.s=='G'"},{"calculate":"indexof([30,75,150,225],datum.d)+(datum.d>=150?0:(datum.c=='n4'?0.22:-0.22))","as":"pos"},{"calculate":"datum.pos-0.1","as":"m0"},{"calculate":"datum.pos+0.1","as":"m1"}],
 "mark":{"type":"rule","strokeWidth":5},
 "encoding":{"y":{"field":"mean","type":"quantitative","scale":{"domain":[-0.0334,0.8042],"nice":false,"zero":false},"axis":{"values":[0,0.1,0.2,0.3,0.4,0.5,0.6,0.7,0.8],"format":".1f","title":"Shifted and Scaled Minima"}},
  "x":{"field":"m0","type":"quantitative","scale":{"domain":[-0.5,3.5],"nice":false,"zero":false},"axis":{"values":[0,1,2,3],"labelExpr":"['30','75','150','225'][datum.value]","title":"Dimensions","labelFlush":false}},
  "x2":{"field":"m1"},
  "stroke":{"field":"s","type":"nominal","scale":{"domain":["G","S1","S4"],"range":["#006400","#8a0c6a","#f2bb57"]},"legend":null}}},
{"data":{"name":"stats"},"transform":[{"filter":"datum.p=='BH' && datum.s=='G'"},{"calculate":"indexof([30,75,150,225],datum.d)+(datum.d>=150?0:(datum.c=='n4'?0.22:-0.22))","as":"pos"}],
 "mark":{"type":"rule","strokeWidth":3.5},
 "encoding":{"y":{"field":"mn","type":"quantitative","scale":{"domain":[-0.0334,0.8042],"nice":false,"zero":false},"axis":{"values":[0,0.1,0.2,0.3,0.4,0.5,0.6,0.7,0.8],"format":".1f","title":"Shifted and Scaled Minima"}},
  "y2":{"field":"mx"},
  "x":{"field":"pos","type":"quantitative","scale":{"domain":[-0.5,3.5],"nice":false,"zero":false},"axis":{"values":[0,1,2,3],"labelExpr":"['30','75','150','225'][datum.value]","title":"Dimensions","labelFlush":false}},
  "stroke":{"field":"s","type":"nominal","scale":{"domain":["G","S1","S4"],"range":["#006400","#8a0c6a","#f2bb57"]},"legend":null}}},
{"data":{"name":"stats"},"transform":[{"filter":"datum.p=='BH' && datum.s!='G'"},{"calculate":"indexof([30,75,150,225],datum.d)+(datum.d>=150?0:(datum.c=='n4'?0.22:-0.22))","as":"pos"},{"calculate":"datum.pos-0.1","as":"m0"},{"calculate":"datum.pos+0.1","as":"m1"}],
 "mark":{"type":"rule","strokeWidth":5},
 "encoding":{"y":{"field":"mean","type":"quantitative","scale":{"domain":[-0.0334,0.8042],"nice":false,"zero":false},"axis":{"values":[0,0.1,0.2,0.3,0.4,0.5,0.6,0.7,0.8],"format":".1f","title":"Shifted and Scaled Minima"}},
  "x":{"field":"m0","type":"quantitative","scale":{"domain":[-0.5,3.5],"nice":false,"zero":false},"axis":{"values":[0,1,2,3],"labelExpr":"['30','75','150','225'][datum.value]","title":"Dimensions","labelFlush":false}},
  "x2":{"field":"m1"},
  "stroke":{"field":"s","type":"nominal","scale":{"domain":["G","S1","S4"],"range":["#006400","#8a0c6a","#f2bb57"]},"legend":null}}},
{"data":{"name":"stats"},"transform":[{"filter":"datum.p=='BH' && datum.s!='G'"},{"calculate":"indexof([30,75,150,225],datum.d)+(datum.d>=150?0:(datum.c=='n4'?0.22:-0.22))","as":"pos"}],
 "mark":{"type":"rule","strokeWidth":3.5},
 "encoding":{"y":{"field":"mn","type":"quantitative","scale":{"domain":[-0.0334,0.8042],"nice":false,"zero":false},"axis":{"values":[0,0.1,0.2,0.3,0.4,0.5,0.6,0.7,0.8],"format":".1f","title":"Shifted and Scaled Minima"}},
  "y2":{"field":"mx"},
  "x":{"field":"pos","type":"quantitative","scale":{"domain":[-0.5,3.5],"nice":false,"zero":false},"axis":{"values":[0,1,2,3],"labelExpr":"['30','75','150','225'][datum.value]","title":"Dimensions","labelFlush":false}},
  "stroke":{"field":"s","type":"nominal","scale":{"domain":["G","S1","S4"],"range":["#006400","#8a0c6a","#f2bb57"]},"legend":null}}},
{"data":{"name":"stats"},"transform":[{"filter":"datum.p=='BH' && isValid(datum.pct)"},{"calculate":"indexof([30,75,150,225],datum.d)+(datum.d>=150?0:(datum.c=='n4'?0.22:-0.22))","as":"pos"}],
 "mark":{"type":"text","baseline":"alphabetic","align":"center","dy":-5,"fontSize":33,"font":"DejaVu Serif","color":"black"},
 "encoding":{"y":{"field":"mx","type":"quantitative","scale":{"domain":[-0.0334,0.8042],"nice":false,"zero":false},"axis":{"values":[0,0.1,0.2,0.3,0.4,0.5,0.6,0.7,0.8],"format":".1f","title":"Shifted and Scaled Minima"}},
  "x":{"field":"pos","type":"quantitative","scale":{"domain":[-0.5,3.5],"nice":false,"zero":false},"axis":{"values":[0,1,2,3],"labelExpr":"['30','75','150','225'][datum.value]","title":"Dimensions","labelFlush":false}},
  "text":{"field":"pct"}}}
]},
{"layer":[
{"data":{"values":[{}]},
 "mark":{"type":"rect","fill":"white","stroke":"black","strokeWidth":2.5},
 "encoding":{"x":{"datum":-0.269,"type":"quantitative","scale":{"domain":[-0.269,1.268],"range":[1029,1751],"nice":false,"zero":false},"axis":{"orient":"bottom","offset":-452.7,"values":[0,1],"labelExpr":"['30','75'][datum.value]","title":null,"labelFlush":false}},
  "x2":{"datum":1.268},
  "y":{"datum":-0.00142,"type":"quantitative","scale":{"domain":[-0.00142,0.03456],"range":[341.7,24.3],"nice":false,"zero":false},"axis":{"orient":"left","offset":-1029,"values":[0,0.01,0.02,0.03],"format":".2f","title":null}},
  "y2":{"datum":0.03456}}},
{"data":{"name":"shapes"},"transform":[{"filter":"datum.p=='BH' && datum.c=='n4' && datum.s=='G'"},{"calculate":"indexof([30,75],datum.d)","as":"pos"},{"calculate":"datum.pos-datum.w","as":"lo"},{"calculate":"datum.pos+datum.w","as":"hi"}],
 "mark":{"type":"area","orient":"horizontal","interpolate":"monotone","fillOpacity":0.3},
 "encoding":{"y":{"field":"v","type":"quantitative","scale":{"domain":[-0.00142,0.03456],"range":[341.7,24.3],"nice":false,"zero":false},"axis":{"orient":"left","offset":-1029,"values":[0,0.01,0.02,0.03],"format":".2f","title":null}},
  "x":{"field":"lo","type":"quantitative","scale":{"domain":[-0.269,1.268],"range":[1029,1751],"nice":false,"zero":false},"axis":{"orient":"bottom","offset":-452.7,"values":[0,1],"labelExpr":"['30','75'][datum.value]","title":null,"labelFlush":false}},
  "x2":{"field":"hi"},
  "fill":{"field":"s","type":"nominal","scale":{"domain":["G","S1","S4"],"range":["#006400","#8a0c6a","#f2bb57"]},"legend":null},
  "detail":[{"field":"d"}]}},
{"data":{"name":"shapes"},"transform":[{"filter":"datum.p=='BH' && datum.c=='n4' && datum.s!='G'"},{"calculate":"indexof([30,75],datum.d)","as":"pos"},{"calculate":"datum.pos-datum.w","as":"lo"},{"calculate":"datum.pos+datum.w","as":"hi"}],
 "mark":{"type":"area","orient":"horizontal","interpolate":"monotone","fillOpacity":0.3},
 "encoding":{"y":{"field":"v","type":"quantitative","scale":{"domain":[-0.00142,0.03456],"range":[341.7,24.3],"nice":false,"zero":false},"axis":{"orient":"left","offset":-1029,"values":[0,0.01,0.02,0.03],"format":".2f","title":null}},
  "x":{"field":"lo","type":"quantitative","scale":{"domain":[-0.269,1.268],"range":[1029,1751],"nice":false,"zero":false},"axis":{"orient":"bottom","offset":-452.7,"values":[0,1],"labelExpr":"['30','75'][datum.value]","title":null,"labelFlush":false}},
  "x2":{"field":"hi"},
  "fill":{"field":"s","type":"nominal","scale":{"domain":["G","S1","S4"],"range":["#006400","#8a0c6a","#f2bb57"]},"legend":null},
  "detail":[{"field":"d"}]}},
{"data":{"name":"stats"},"transform":[{"filter":"datum.p=='BH' && datum.c=='n4' && datum.s=='G'"},{"calculate":"indexof([30,75],datum.d)","as":"pos"},{"calculate":"datum.pos-0.1","as":"m0"},{"calculate":"datum.pos+0.1","as":"m1"}],
 "mark":{"type":"rule","strokeWidth":5},
 "encoding":{"y":{"field":"mean","type":"quantitative","scale":{"domain":[-0.00142,0.03456],"range":[341.7,24.3],"nice":false,"zero":false},"axis":{"orient":"left","offset":-1029,"values":[0,0.01,0.02,0.03],"format":".2f","title":null}},
  "x":{"field":"m0","type":"quantitative","scale":{"domain":[-0.269,1.268],"range":[1029,1751],"nice":false,"zero":false},"axis":{"orient":"bottom","offset":-452.7,"values":[0,1],"labelExpr":"['30','75'][datum.value]","title":null,"labelFlush":false}},
  "x2":{"field":"m1"},
  "stroke":{"field":"s","type":"nominal","scale":{"domain":["G","S1","S4"],"range":["#006400","#8a0c6a","#f2bb57"]},"legend":null}}},
{"data":{"name":"stats"},"transform":[{"filter":"datum.p=='BH' && datum.c=='n4' && datum.s=='G'"},{"calculate":"indexof([30,75],datum.d)","as":"pos"}],
 "mark":{"type":"rule","strokeWidth":3.5},
 "encoding":{"y":{"field":"mn","type":"quantitative","scale":{"domain":[-0.00142,0.03456],"range":[341.7,24.3],"nice":false,"zero":false},"axis":{"orient":"left","offset":-1029,"values":[0,0.01,0.02,0.03],"format":".2f","title":null}},
  "y2":{"field":"mx"},
  "x":{"field":"pos","type":"quantitative","scale":{"domain":[-0.269,1.268],"range":[1029,1751],"nice":false,"zero":false},"axis":{"orient":"bottom","offset":-452.7,"values":[0,1],"labelExpr":"['30','75'][datum.value]","title":null,"labelFlush":false}},
  "stroke":{"field":"s","type":"nominal","scale":{"domain":["G","S1","S4"],"range":["#006400","#8a0c6a","#f2bb57"]},"legend":null}}},
{"data":{"name":"stats"},"transform":[{"filter":"datum.p=='BH' && datum.c=='n4' && datum.s!='G'"},{"calculate":"indexof([30,75],datum.d)","as":"pos"},{"calculate":"datum.pos-0.1","as":"m0"},{"calculate":"datum.pos+0.1","as":"m1"}],
 "mark":{"type":"rule","strokeWidth":5},
 "encoding":{"y":{"field":"mean","type":"quantitative","scale":{"domain":[-0.00142,0.03456],"range":[341.7,24.3],"nice":false,"zero":false},"axis":{"orient":"left","offset":-1029,"values":[0,0.01,0.02,0.03],"format":".2f","title":null}},
  "x":{"field":"m0","type":"quantitative","scale":{"domain":[-0.269,1.268],"range":[1029,1751],"nice":false,"zero":false},"axis":{"orient":"bottom","offset":-452.7,"values":[0,1],"labelExpr":"['30','75'][datum.value]","title":null,"labelFlush":false}},
  "x2":{"field":"m1"},
  "stroke":{"field":"s","type":"nominal","scale":{"domain":["G","S1","S4"],"range":["#006400","#8a0c6a","#f2bb57"]},"legend":null}}},
{"data":{"name":"stats"},"transform":[{"filter":"datum.p=='BH' && datum.c=='n4' && datum.s!='G'"},{"calculate":"indexof([30,75],datum.d)","as":"pos"}],
 "mark":{"type":"rule","strokeWidth":3.5},
 "encoding":{"y":{"field":"mn","type":"quantitative","scale":{"domain":[-0.00142,0.03456],"range":[341.7,24.3],"nice":false,"zero":false},"axis":{"orient":"left","offset":-1029,"values":[0,0.01,0.02,0.03],"format":".2f","title":null}},
  "y2":{"field":"mx"},
  "x":{"field":"pos","type":"quantitative","scale":{"domain":[-0.269,1.268],"range":[1029,1751],"nice":false,"zero":false},"axis":{"orient":"bottom","offset":-452.7,"values":[0,1],"labelExpr":"['30','75'][datum.value]","title":null,"labelFlush":false}},
  "stroke":{"field":"s","type":"nominal","scale":{"domain":["G","S1","S4"],"range":["#006400","#8a0c6a","#f2bb57"]},"legend":null}}},
{"data":{"name":"stats"},"transform":[{"filter":"datum.p=='BH' && datum.c=='n4' && isValid(datum.pct)"},{"calculate":"indexof([30,75],datum.d)","as":"pos"}],
 "mark":{"type":"text","baseline":"alphabetic","align":"center","dy":-5,"fontSize":33,"font":"DejaVu Serif","color":"black"},
 "encoding":{"y":{"field":"mx","type":"quantitative","scale":{"domain":[-0.00142,0.03456],"range":[341.7,24.3],"nice":false,"zero":false},"axis":{"orient":"left","offset":-1029,"values":[0,0.01,0.02,0.03],"format":".2f","title":null}},
  "x":{"field":"pos","type":"quantitative","scale":{"domain":[-0.269,1.268],"range":[1029,1751],"nice":false,"zero":false},"axis":{"orient":"bottom","offset":-452.7,"values":[0,1],"labelExpr":"['30','75'][datum.value]","title":null,"labelFlush":false}},
  "text":{"field":"pct"}}}
]}
]
}
]
}
